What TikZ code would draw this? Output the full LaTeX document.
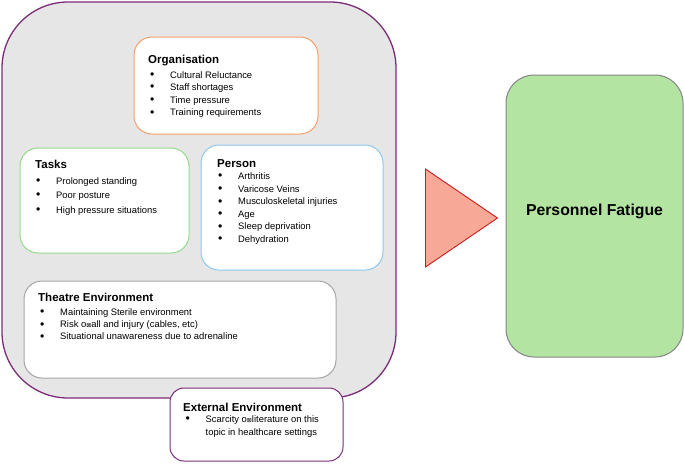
\documentclass[tikz,border=0pt]{standalone}
\usepackage{fontspec}
\setmainfont{Liberation Sans}
\newfontfamily\symfont{DejaVu Sans}
\definecolor{outerfill}{HTML}{E7E6E6}
\definecolor{purpleb}{HTML}{7B2C78}
\definecolor{orangeb}{HTML}{F2A06B}
\definecolor{greenb}{HTML}{93DC8E}
\definecolor{blueb}{HTML}{8DC9EC}
\definecolor{grayb}{HTML}{A6A6A6}
\definecolor{trifill}{HTML}{F7A897}
\definecolor{trired}{HTML}{C81E1E}
\definecolor{pfill}{HTML}{B4E4A2}
\definecolor{pborder}{HTML}{858585}
\newcommand{\bitem}[1]{\makebox[20pt][l]{\raisebox{-0.3pt}{\scalebox{1.3}{\textbullet}}}#1}
\newcommand{\missing}{{\symfont\fontsize{6}{6}\selectfont ⊠}}
\newcommand{\lst}[1]{\begin{tabular}[t]{@{}l@{}}#1\end{tabular}}
\begin{document}
\begin{tikzpicture}[x=1pt,y=-1pt,
  inbox/.style={draw, line width=1pt, rounded corners=18pt, fill=white},
  titletxt/.style={anchor=base west, inner sep=0pt, font=\fontsize{11.5}{13}\selectfont\bfseries},
  listtxt/.style={anchor=base west, inner sep=0pt, font=\fontsize{9.4}{12.6}\selectfont}]
\useasboundingbox (0,0) rectangle (684,463);
% outer container
\draw[purpleb, line width=1.3pt, fill=outerfill, rounded corners=66pt] (2,2) rectangle (396,398);
% Organisation
\draw[inbox, draw=orangeb] (134,37) rectangle (318,134);
\node[titletxt] (orgt) at (148,63) {Organisation};
\node[listtxt] (orgl) at (150,78) {\lst{\bitem{Cultural Reluctance}\\ \bitem{Staff shortages}\\ \bitem{Time pressure}\\ \bitem{Training requirements}}};
% Tasks
\draw[inbox, draw=greenb] (20,148) rectangle (189,253);
\node[titletxt] (taskt) at (35,168) {Tasks};
\node[listtxt, font=\fontsize{9.4}{14.6}\selectfont] (taskl) at (36,184) {\lst{\bitem{Prolonged standing}\\ \bitem{Poor posture}\\ \bitem{High pressure situations}}};
% Person
\draw[inbox, draw=blueb] (201,145) rectangle (383,270);
\node[titletxt] (perst) at (217,167) {Person};
\node[listtxt] (persl) at (218,179.5) {\lst{\bitem{Arthritis}\\ \bitem{Varicose Veins}\\ \bitem{Musculoskeletal injuries}\\ \bitem{Age}\\ \bitem{Sleep deprivation}\\ \bitem{Dehydration}}};
% Theatre Environment
\draw[inbox, draw=grayb] (24,281) rectangle (336,378);
\node[titletxt] (theat) at (38,301) {Theatre Environment};
\node[listtxt, font=\fontsize{9.4}{12.2}\selectfont] (theal) at (40,315.5) {\lst{\bitem{Maintaining Sterile environment}\\ \bitem{Risk o\missing all and injury (cables, etc)}\\ \bitem{Situational unawareness due to adrenaline}}};
% External Environment
\draw[inbox, draw=purpleb, rounded corners=14pt] (170,388) rectangle (343,461);
\node[titletxt] (extt) at (183,411) {External Environment};
\node[listtxt, font=\fontsize{9.4}{13.3}\selectfont] (extl) at (185.5,422.5) {\lst{\bitem{Scarcity o\missing literature on this}\\ \hspace*{20pt}topic in healthcare settings}};
% Triangle
\coordinate (ta) at (425.5,169);
\coordinate (tb) at (497.5,218);
\coordinate (tc) at (425.5,267);
\draw[trired, line width=0.9pt, fill=trifill, line join=miter] (ta) -- (tb) -- (tc) -- cycle;
% Personnel Fatigue
\draw[pborder, line width=1pt, fill=pfill, rounded corners=28pt] (506,75) rectangle (683,357);
\node[inner sep=0pt, font=\fontsize{15.8}{18}\selectfont\bfseries] (pf) at (594.5,211) {Personnel Fatigue};
\end{tikzpicture}
\end{document}
